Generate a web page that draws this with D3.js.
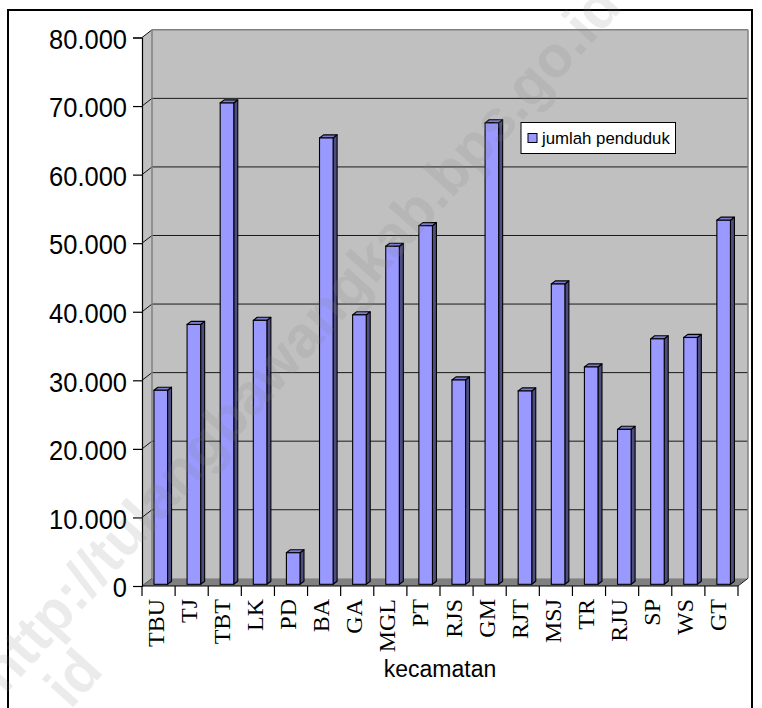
<!DOCTYPE html>
<html><head><meta charset="utf-8">
<script src="https://cdn.jsdelivr.net/npm/d3@7/dist/d3.min.js"></script>
<style>html,body{margin:0;padding:0;background:#fff;}svg{display:block;}</style>
</head><body><div id="chart"></div>
<script>
const categories = ["TBU","TJ","TBT","LK","PD","BA","GA","MGL","PT","RJS","GM","RJT","MSJ","TR","RJU","SP","WS","GT"];
const values = [28300,37900,70200,38500,4600,65100,39300,49300,52300,29800,67300,28200,43800,31700,22600,35800,36000,53100];
const yTickValues = [0,10000,20000,30000,40000,50000,60000,70000,80000];
const seriesName = "jumlah penduduk";
const xTitle = "kecamatan";
const watermark = "http://tulangbawangkab.bps.go.id";

const W = 762, H = 708;
const svg = d3.select("#chart").append("svg").attr("width", W).attr("height", H);
svg.append("rect").attr("width", W).attr("height", H).attr("fill", "#fff");

const X0 = 142, X1 = 738, Y0 = 586, YT = 37.5;
const DX = 10, DY = -7.7;          // full depth offset of the 3D box
const fFront = 0.22, fBack = 0.62; // bar depth fractions

const y = d3.scaleLinear().domain([0, 80000]).range([Y0, YT]);
const x = d3.scaleBand().domain(categories).range([X0, X1]).padding(0);
const fmt = d3.formatLocale({decimal: ",", thousands: ".", grouping: [3], currency: ["", ""]}).format(",.0f");

const g = svg.append("g");

// back wall
g.append("rect").attr("x", X0 + DX).attr("y", y(80000) + DY)
  .attr("width", X1 - X0).attr("height", y(0) - y(80000)).attr("fill", "#c0c0c0");
// side wall
g.append("polygon").attr("points", [[X0, y(0)], [X0, y(80000)], [X0 + DX, y(80000) + DY], [X0 + DX, y(0) + DY]].join(" "))
  .attr("fill", "#c0c0c0");
// floor
g.append("polygon").attr("points", [[X0, Y0], [X1, Y0], [X1 + DX, Y0 + DY], [X0 + DX, Y0 + DY]].join(" "))
  .attr("fill", "#808080");

// gridlines on back wall
g.selectAll("line.grid").data(yTickValues.filter(v => v > 0 && v < 80000)).join("line")
  .attr("x1", X0 + DX).attr("x2", X1 + DX)
  .attr("y1", d => y(d) + DY).attr("y2", d => y(d) + DY)
  .attr("stroke", "#1a1a1a").attr("stroke-width", 1);
// side-wall slanted gridlines
g.selectAll("line.side").data(yTickValues).join("line")
  .attr("x1", X0).attr("x2", X0 + DX)
  .attr("y1", d => y(d)).attr("y2", d => y(d) + DY)
  .attr("stroke", d => d === 0 ? "#555" : "#111").attr("stroke-width", 1);
// wall edges
const edge = "#808080";
g.append("line").attr("x1", X0 + DX).attr("x2", X0 + DX).attr("y1", y(80000) + DY).attr("y2", y(0) + DY).attr("stroke", edge).attr("stroke-width", 1.5);
g.append("line").attr("x1", X0 + DX).attr("x2", X1 + DX).attr("y1", y(80000) + DY).attr("y2", y(80000) + DY).attr("stroke", edge).attr("stroke-width", 1.5);
g.append("line").attr("x1", X1 + DX).attr("x2", X1 + DX).attr("y1", y(80000) + DY).attr("y2", y(0) + DY).attr("stroke", edge).attr("stroke-width", 1.5);
g.append("line").attr("x1", X1).attr("x2", X1 + DX).attr("y1", Y0).attr("y2", Y0 + DY).attr("stroke", "#222").attr("stroke-width", 1);

// bars
const bw = x.bandwidth() * 0.41;
const bdx = (fBack - fFront) * DX, bdy = (fBack - fFront) * DY;
const bars = g.selectAll("g.bar").data(categories.map((c, i) => ({c, v: values[i]}))).join("g");
bars.each(function(d) {
  const sel = d3.select(this);
  const x0 = x(d.c) + x.bandwidth() / 2 + fFront * DX - bw / 2;
  const yb = y(0) + fFront * DY, yt = y(d.v) + fFront * DY;
  sel.append("polygon").attr("points", [[x0 + bw, yt], [x0 + bw + bdx, yt + bdy], [x0 + bw + bdx, yb + bdy], [x0 + bw, yb]].join(" "))
    .attr("fill", "#4d4d80").attr("stroke", "#000").attr("stroke-width", 1.1).attr("stroke-linejoin", "round");
  sel.append("polygon").attr("points", [[x0, yt], [x0 + bdx, yt + bdy], [x0 + bw + bdx, yt + bdy], [x0 + bw, yt]].join(" "))
    .attr("fill", "#7b7bd0").attr("stroke", "#000").attr("stroke-width", 1.1).attr("stroke-linejoin", "round");
  sel.append("rect").attr("x", x0).attr("y", yt).attr("width", bw).attr("height", yb - yt)
    .attr("fill", "#9999ff").attr("stroke", "#000").attr("stroke-width", 1.1);
});

// y axis (line + ticks by d3 axis, labels drawn separately for slight vertical stretch)
const yAxis = g.append("g").attr("transform", `translate(${X0},0)`)
  .call(d3.axisLeft(y).tickValues(yTickValues).tickSize(9).tickFormat(""));
yAxis.select(".domain").attr("stroke", "#000").attr("stroke-width", 1.2);
yAxis.selectAll(".tick line").attr("stroke", "#000").attr("stroke-width", 1.2);
g.selectAll("text.yl").data(yTickValues).join("text")
  .attr("transform", d => `translate(127,${y(d) + 11.2}) scale(1,1.08)`)
  .attr("text-anchor", "end")
  .attr("font-family", "Arial, 'Liberation Sans', sans-serif").attr("font-size", 25.5).attr("fill", "#000")
  .text(d => fmt(d));

// x axis line & boundary ticks
g.append("line").attr("x1", X0).attr("x2", X1).attr("y1", Y0).attr("y2", Y0).attr("stroke", "#000").attr("stroke-width", 1.2);
g.selectAll("line.xt").data(categories.concat(["__end"])).join("line")
  .attr("x1", (d, i) => X0 + i * x.step()).attr("x2", (d, i) => X0 + i * x.step())
  .attr("y1", Y0).attr("y2", Y0 + 10).attr("stroke", "#000").attr("stroke-width", 1.2);
g.selectAll("text.xl").data(categories).join("text")
  .attr("transform", d => `translate(${x(d) + x.bandwidth() / 2 + 5},${Y0 + 13}) rotate(-90)`)
  .attr("text-anchor", "end")
  .attr("font-family", "'Times New Roman', 'Liberation Serif', serif").attr("font-size", 24)
  .text(d => d);

// x title
g.append("text").attr("x", (X0 + X1) / 2).attr("y", 677).attr("text-anchor", "middle")
  .attr("font-family", "Arial, 'Liberation Sans', sans-serif").attr("font-size", 23).text(xTitle);

// legend
const lg = g.append("g");
lg.append("rect").attr("x", 521).attr("y", 122.5).attr("width", 154.5).attr("height", 31).attr("fill", "#fff").attr("stroke", "#000").attr("stroke-width", 1);
lg.append("rect").attr("x", 528).attr("y", 133.5).attr("width", 9).attr("height", 9).attr("fill", "#9999ff").attr("stroke", "#000").attr("stroke-width", 1);
lg.append("text").attr("x", 542).attr("y", 143.5).attr("font-family", "Arial, 'Liberation Sans', sans-serif").attr("font-size", 16.8).text(seriesName);

// outer border
svg.append("rect").attr("x", 8).attr("y", 10).attr("width", 744).attr("height", 720).attr("fill", "none").attr("stroke", "#000").attr("stroke-width", 2);

// watermark
const wm = svg.append("g").attr("pointer-events", "none");
wm.append("text").attr("transform", "translate(5,695) rotate(-48)")
  .attr("font-family", "Arial, 'Liberation Sans', sans-serif").attr("font-weight", "bold").attr("font-size", 58)
  .attr("fill", "#808080").attr("fill-opacity", 0.16).text(watermark);
wm.append("text").attr("transform", "translate(105,672) rotate(-48)").attr("text-anchor", "end")
  .attr("font-family", "Arial, 'Liberation Sans', sans-serif").attr("font-weight", "bold").attr("font-size", 58)
  .attr("fill", "#808080").attr("fill-opacity", 0.16).text(watermark);
</script></body></html>
